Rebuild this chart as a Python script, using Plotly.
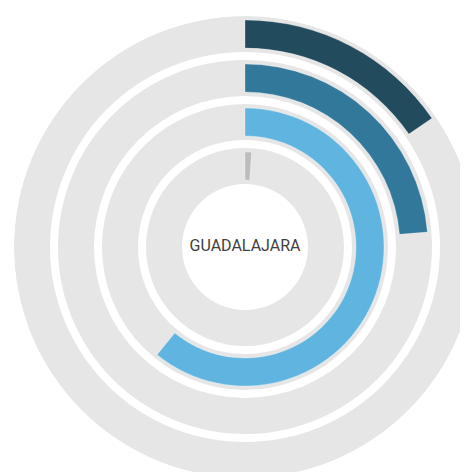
import plotly.graph_objects as go

# ---- data ----
series = ["Serie 1", "Serie 2", "Serie 3", "Serie 4"]
values_pct = [15.4, 23.7, 60.9, 1.1]
bar_colors = ["#234b5e", "#32789b", "#60b5e0", "#bcbcbc"]
center_label = "GUADALAJARA"

# ---- style / geometry (radial units == px) ----
W, H = 468, 472
CX, CY = 237, 239           # centre of rings in figure px (page adds 8px body margin)
OUTER = 231                 # outer radius of outermost track == polar radius
PITCH = 44
TRACK = 36
INSET = 4
TRACK_COLOR = "#e6e6e6"

fig = go.Figure()

for i, (name, v, col) in enumerate(zip(series, values_pct, bar_colors)):
    r_out = OUTER - i * PITCH
    r_in = r_out - TRACK
    # grey track (full circle)
    fig.add_trace(go.Barpolar(
        r=[TRACK], base=[r_in], theta=[180], width=[360],
        marker=dict(color=TRACK_COLOR, line=dict(width=0)),
        hoverinfo="skip", showlegend=False,
    ))
    deg = v / 100.0 * 360.0
    fig.add_trace(go.Barpolar(
        r=[TRACK - 2 * INSET], base=[r_in + INSET], theta=[deg / 2], width=[deg],
        marker=dict(color=col, line=dict(color="rgba(255,255,255,0.5)", width=0.6)),
        name=name, showlegend=False,
    ))

fig.add_trace(go.Scatterpolar(
    r=[0], theta=[0], mode="text", text=[center_label],
    textfont=dict(family="Roboto", size=16, color="#3f3f3f"),
    cliponaxis=False, hoverinfo="skip", showlegend=False,
))

fig.update_layout(
    width=W, height=H,
    margin=dict(l=0, r=0, t=0, b=0),
    paper_bgcolor="white",
    showlegend=False,
    polar=dict(
        domain=dict(x=[(CX - OUTER) / W, min(1.0, (CX + OUTER) / W)],
                    y=[(H - CY - OUTER) / H, min(1.0, (H - CY + OUTER) / H)]),
        bgcolor="rgba(0,0,0,0)",
        hole=0,
        radialaxis=dict(range=[0, OUTER], visible=False, showgrid=False),
        angularaxis=dict(rotation=90, direction="clockwise", visible=False,
                         showgrid=False),
        barmode="overlay",
    ),
)

fig.write_html("out.html")
